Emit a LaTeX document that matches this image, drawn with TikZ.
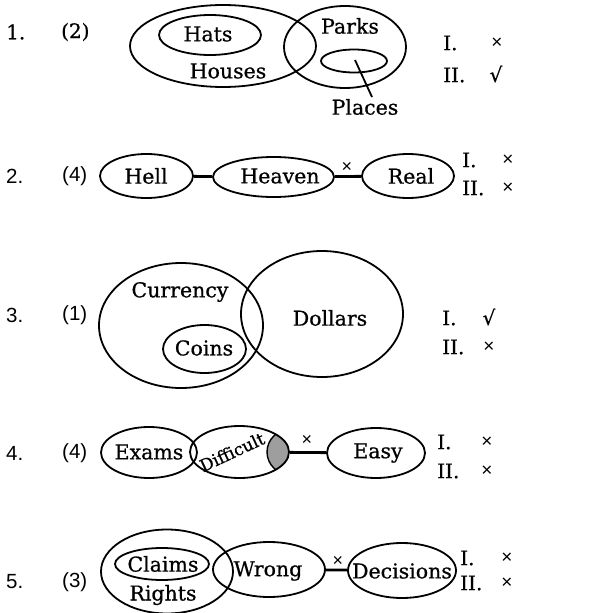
\documentclass[tikz,border=0pt]{standalone}
\usepackage{fontspec}
\setmainfont{DejaVu Serif}[FakeBold=0.7]
\newfontfamily\numfont{Liberation Sans}
\usetikzlibrary{shapes.geometric}
\begin{document}
\begin{tikzpicture}[x=1pt,y=-1pt,
  ell/.style={draw, ellipse, line width=1.8pt, inner sep=0pt, minimum width=#1},
  lbl/.style={font=\fontsize{20.5}{20.5}\selectfont, inner sep=0pt},
  numA/.style={font=\numfont\fontsize{20.5}{20.5}\selectfont, inner sep=0pt, anchor=west},
  numS/.style={font=\fontsize{20}{20}\selectfont, inner sep=0pt, anchor=west},
  roman/.style={font=\fontsize{20}{20}\selectfont, inner sep=0pt, anchor=west},
  tickmark/.style={font=\numfont\fontsize{19}{19}\selectfont, inner sep=0pt},
  root/.style={font=\fontsize{20}{20}\selectfont, inner sep=0pt},
  conn/.style={line width=2.8pt},
  xlab/.style={font=\numfont\fontsize{18}{18}\selectfont, inner sep=0pt}]
\useasboundingbox (0,0) rectangle (616,613);
\fill[white] (0,0) rectangle (616,613);

% ---------- Row 1 ----------
\node[numS] (n1) at (6,32) {1.};
\node[numS] (a1) at (61,32) {(2)};
\node[ell=186pt, minimum height=82pt] (houses) at (223,46) {};
\node[ell=102pt, minimum height=40pt] (hats) at (210,35) {};
\node[ell=122pt, minimum height=82pt] (parks) at (345,47) {};
\node[ell=66pt, minimum height=23pt] (places) at (354,61) {};
\node[lbl] (hatst) at (208,34) {Hats};
\node[lbl] (housest) at (228,71) {Houses};
\node[lbl] (parkst) at (350,26) {Parks};
\node[lbl] (placest) at (365,107) {Places};
\coordinate (pin) at (355,60);
\coordinate (pout) at (372,97);
\draw[line width=1.8pt] (pin) -- (pout);
\node[roman] (r1a) at (443,43) {I.};
\node[tickmark] (m1a) at (497,43) {×};
\node[roman] (r1b) at (443,75) {II.};
\node[root] (m1b) at (496,74) {√};

% ---------- Row 2 ----------
\node[numA] (n2) at (6,176) {2.};
\node[numA] (a2) at (62,176) {(4)};
\node[ell=93pt, minimum height=44pt] (hell) at (146.5,176) {};
\node[ell=121pt, minimum height=40pt] (heaven) at (273.5,177) {};
\node[ell=92pt, minimum height=44pt] (real) at (408,176) {};
\node[lbl] at (146,176) {Hell};
\node[lbl] at (280,176) {Heaven};
\node[lbl] at (411,176) {Real};
\draw[conn] (hell) -- (heaven);
\draw[conn] (heaven) -- (real);
\node[xlab] (x2) at (347,167) {×};
\node[roman] (r2a) at (462,160) {I.};
\node[tickmark] (m2a) at (508,160) {×};
\node[roman] (r2b) at (462,188) {II.};
\node[tickmark] (m2b) at (508,188) {×};

% ---------- Row 3 ----------
\node[numA] (n3) at (6,315) {3.};
\node[numA] (a3) at (62,315) {(1)};
\node[ell=164pt, minimum height=125pt] (currency) at (181,325.5) {};
\node[ell=162pt, minimum height=126pt] (dollars) at (322,314) {};
\node[ell=83pt, minimum height=48pt] (coins) at (204.5,349) {};
\node[lbl] at (180,292) {Currency};
\node[lbl] at (204,348) {Coins};
\node[lbl] at (330,318) {Dollars};
\node[roman] (r3a) at (442,318) {I.};
\node[root] (m3a) at (489,317) {√};
\node[roman] (r3b) at (442,347) {II.};
\node[tickmark] (m3b) at (489,347) {×};

% ---------- Row 4 ----------
\node[numA] (n4) at (6,453) {4.};
\node[numA] (a4) at (62,453) {(4)};
\begin{scope}
  \clip (239.5,452) ellipse (49.5 and 26);
  \fill[black!38] (291,452) ellipse (24 and 23);
  \draw[line width=1.4pt] (291,452) ellipse (24 and 23);
\end{scope}
\node[ell=96pt, minimum height=51pt] (exams) at (149,452.5) {};
\node[ell=99pt, minimum height=52pt] (difficult) at (239.5,452) {};
\node[ell=98pt, minimum height=50pt] (easy) at (376,453) {};
\node[lbl] at (149,452) {Exams};
\node[font=\fontsize{17}{17}\selectfont, inner sep=0pt, rotate=25] at (232,452) {Difficult};
\node[lbl] at (378,453) {Easy};
\draw[conn] (difficult) -- (easy);
\node[xlab] (x4) at (307,440) {×};
\node[roman] (r4a) at (437,442) {I.};
\node[tickmark] (m4a) at (487,442) {×};
\node[roman] (r4b) at (437,471) {II.};
\node[tickmark] (m4b) at (487,471) {×};

% ---------- Row 5 ----------
\node[numA] (n5) at (6,582) {5.};
\node[numA] (a5) at (62,582) {(3)};
\node[ell=132pt, minimum height=84pt] (rights) at (167,571.5) {};
\node[ell=94pt, minimum height=32pt] (claims) at (162,564) {};
\node[ell=112pt, minimum height=55pt] (wrong) at (269,569.5) {};
\node[ell=108pt, minimum height=55pt] (decisions) at (402,570.5) {};
\node[lbl] at (163,564) {Claims};
\node[lbl] at (163,595) {Rights};
\node[lbl] at (268,571) {Wrong};
\node[lbl] at (402,571) {Decisions};
\draw[conn] (wrong) -- (decisions);
\node[xlab] (x5) at (338,561) {×};
\node[roman] (r5a) at (460,558) {I.};
\node[tickmark] (m5a) at (507,558) {×};
\node[roman] (r5b) at (460,583) {II.};
\node[tickmark] (m5b) at (507,583) {×};
\end{tikzpicture}
\end{document}
